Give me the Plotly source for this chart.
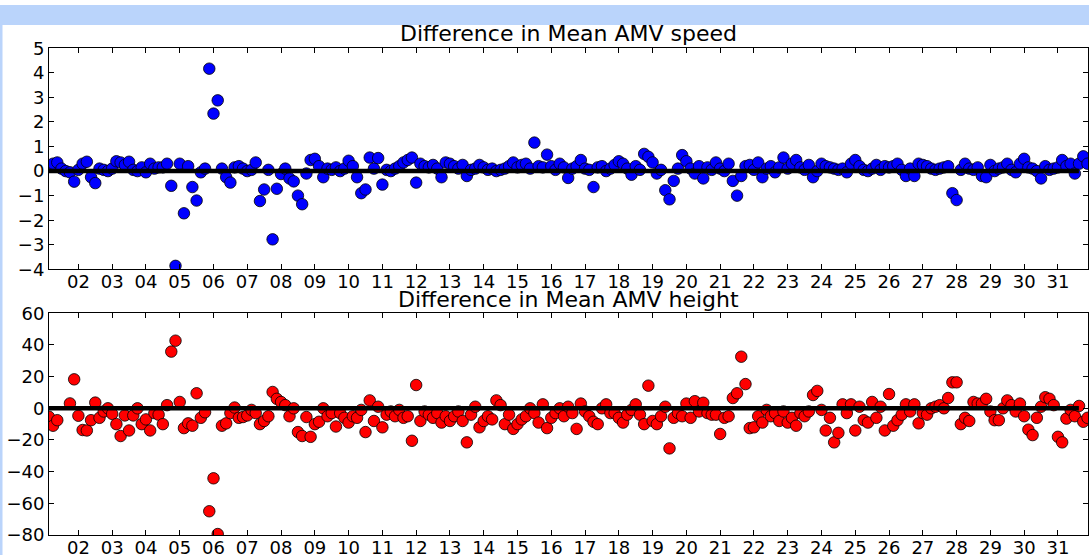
import numpy as np
import plotly.graph_objects as go

# ---------------- data ----------------
# 3-hourly times, expressed as day of month (01 03Z ... 31 21Z)
times = 1.125 + 0.125 * np.arange(247)

day_ticks = list(range(2, 32))
day_labels = ["%02d" % d for d in day_ticks]

speed_diff = [
    0.2, 0.3, 0.35, 0.1, 0.0, -0.05, -0.43,                 # 01
    0.05, 0.3, 0.38, -0.25, -0.49, 0.1, 0.05, 0.0,          # 02
    0.1, 0.4, 0.35, 0.25, 0.38, 0.05, 0.0, 0.15,            # 03
    -0.05, 0.3, 0.1, 0.15, 0.15, 0.3, -0.6, -3.86,          # 04
    0.3, -1.72, 0.2, -0.65, -1.2, -0.05, 0.1, 4.17,         # 05
    2.34, 2.88, 0.1, -0.25, -0.47, 0.15, 0.2, 0.1,          # 06
    0.0, 0.05, 0.35, -1.22, -0.75, 0.05, -2.78, -0.72,      # 07
    -0.12, 0.1, -0.3, -0.42, -1.0, -1.35, -0.1, 0.45,       # 08
    0.5, 0.2, -0.25, 0.1, 0.05, 0.15, 0.0, 0.1,             # 09
    0.42, 0.2, -0.25, -0.9, -0.75, 0.55, 0.1, 0.53,         # 10
    -0.55, 0.05, 0.0, 0.1, 0.2, 0.35, 0.45, 0.55,           # 11
    -0.47, 0.3, 0.2, 0.15, 0.25, 0.1, -0.25, 0.35,          # 12
    0.3, 0.2, 0.1, 0.25, -0.2, 0.05, 0.1, 0.25,             # 13
    0.15, 0.05, 0.1, 0.0, 0.05, 0.1, 0.2, 0.35,             # 14
    0.15, 0.25, 0.3, 0.1, 1.16, 0.2, 0.15, 0.67,            # 15
    0.2, 0.05, 0.3, 0.15, -0.28, 0.1, 0.2, 0.45,            # 16
    0.1, 0.05, -0.65, 0.15, 0.2, 0.0, 0.1, 0.25,            # 17
    0.4, 0.3, 0.1, -0.15, 0.2, 0.05, 0.7, 0.58,             # 18
    0.35, -0.1, 0.05, -0.78, -1.15, -0.4, 0.1, 0.65,        # 19
    0.4, 0.1, -0.1, 0.2, -0.3, 0.15, 0.05, 0.35,            # 20
    0.1, 0.0, 0.3, -0.4, -1.0, -0.2, 0.2, 0.25,             # 21
    0.05, 0.35, -0.25, 0.1, 0.2, -0.05, 0.15, 0.55,         # 22
    0.1, 0.3, 0.45, 0.15, 0.05, 0.25, -0.25, 0.0,           # 23
    0.3, 0.2, 0.15, 0.1, 0.05, 0.1, -0.05, 0.3,             # 24
    0.45, 0.2, 0.05, 0.0, 0.1, 0.25, 0.05, 0.2,             # 25
    0.15, 0.2, 0.3, 0.05, -0.2, 0.1, -0.2, 0.3,             # 26
    0.25, 0.2, 0.1, 0.05, 0.1, 0.15, 0.2, -0.9,             # 27
    -1.18, 0.05, 0.3, 0.1, 0.05, 0.15, -0.2, -0.25,         # 28
    0.25, 0.0, 0.1, 0.15, 0.3, 0.05, -0.05, 0.3,            # 29
    0.5, 0.15, 0.1, 0.0, -0.3, 0.2, 0.05, 0.1,              # 30
    0.15, 0.45, 0.2, 0.3, -0.1, 0.3, 0.6, 0.3,              # 31
]

height_diff = [
    -5.3, -11, -7.5, None, None, 3.1, 18.3,                 # 01
    -4.7, -13.7, -14, -7.5, 3.6, -6, -2, 0,                 # 02
    -3.5, -10, -17.5, -4.5, -14, -4.5, 0, -10,              # 03
    -7, -14, -3, -4, -10, 2, 35.8, 42.7,                    # 04
    4, -12.5, -9.5, -11, 9.5, -6, -2.5, -65,                # 05
    -44.2, -79.4, -11, -9.5, -3, 0.5, -6, -5.5,             # 06
    -4.5, -1, -3, -10, -8, -5, 10.3, 6,                     # 07
    4, 2, -5, 0, -15, -17.5, -5.5, -18,                     # 08
    -10, -8.5, 0, -5, -3, -11.5, -3, -6,                    # 09
    -9, -5, -6, -1, -15, 5, -8, 1,                          # 10
    -12, -4, -2, -5, -1, -6, -5, -20.5,                     # 11
    14.7, -8, -2, -4, -6, -3, -9, -5,                       # 12
    -8, -5, -2, -8, -21.5, -4, 1, -12,                      # 13
    -8, -5, -7, 5, 2, -10, -4, -13,                         # 14
    -10, -7, -5, 0, -3, -9, 2.5, -12.5,                     # 15
    -6, -3, 0, -5, 1, -3, -13, 3,                           # 16
    -2, -5, -8.5, -10, 0, 2.5, -3, -3,                      # 17
    -6, -9, -4, -1, 2.5, -4, -10, 14.3,                     # 18
    -8, -10, -5, 1, -25.3, -6, -3, -5,                      # 19
    3, -6, 4.5, -2, 3.5, -3, -4, -4,                        # 20
    -16.2, -6, -5, 6.5, 9.5, 32.6, 15.3, -12.5,             # 21
    -12, -5, -9, -1, -5, -3, -8, -2,                        # 22
    -9, -6, -11, -3, -5, -2, 8.4, 11,                       # 23
    -1, -14, -6, -21.5, -15.5, 2.5, -3, 2.5,                # 24
    -14, 1, -7.5, -9, 4, -6, 1, -14,                        # 25
    9, -11, -7.5, -4, 2.5, -2, 2.5, -9.5,                   # 26
    -3, -4, 0, 1, 2, 0, 6.5, 16.4,                          # 27
    16.4, -10, -6, -8, 4, 3, 3, 6,                          # 28
    -2, -7.5, -7.5, 0, 5, 2, -2, 3,                         # 29
    -5, -13.5, -16.9, -6, 1, 7, 6, 2,                       # 30
    -18, -21.5, -6.5, -1, -5, 1.5, -8.5, -6,                # 31
]

zero_line_x = [0.87, 31.62]
zero_line_y = [0, 0]

titles = ["Difference in Mean AMV speed", "Difference in Mean AMV height"]

# ---------------- figure ----------------
W, H = 1089, 555
FONT = "DejaVu Sans"
BAND = "#bad4fb"

fig = go.Figure()

marker_common = dict(size=11.5, line=dict(color="black", width=0.8))

fig.add_trace(go.Scatter(x=times, y=speed_diff, mode="markers",
                         marker=dict(color="#0000ff", **marker_common),
                         xaxis="x", yaxis="y", showlegend=False))
fig.add_trace(go.Scatter(x=zero_line_x, y=zero_line_y, mode="lines",
                         line=dict(color="black", width=4.5),
                         xaxis="x", yaxis="y", showlegend=False))
fig.add_trace(go.Scatter(x=times, y=height_diff, mode="markers",
                         marker=dict(color="#ff0000", **marker_common),
                         xaxis="x2", yaxis="y2", showlegend=False))
fig.add_trace(go.Scatter(x=zero_line_x, y=zero_line_y, mode="lines",
                         line=dict(color="black", width=4.5),
                         xaxis="x2", yaxis="y2", showlegend=False))

x_dom = [49 / W, 1088 / W]
top_dom = [1 - 269.3 / H, 1 - 48.3 / H]
bot_dom = [1 - 535 / H, 1 - 313.3 / H]

axis_common = dict(showline=True, linecolor="black", linewidth=1, mirror="ticks",
                   ticks="inside", ticklen=5, tickcolor="black", tickwidth=1,
                   showgrid=False, zeroline=False, automargin=False,
                   tickfont=dict(family=FONT, size=18, color="black"))

xcommon = dict(range=[1.13, 31.89], tickmode="array", tickvals=day_ticks,
               ticktext=day_labels, domain=x_dom, ticklabelstandoff=-4,
               **axis_common)

fig.update_layout(
    template="none",
    width=W, height=H, autosize=False,
    margin=dict(l=0, r=0, t=0, b=0, pad=0, autoexpand=False),
    paper_bgcolor="white", plot_bgcolor="white",
    xaxis=dict(anchor="y", **xcommon),
    xaxis2=dict(anchor="y2", **xcommon),
    yaxis=dict(anchor="x", domain=top_dom, range=[-4, 5], dtick=1, **axis_common),
    yaxis2=dict(anchor="x2", domain=bot_dom, range=[-80, 60], dtick=20, **axis_common),
    shapes=[
        dict(type="rect", xref="paper", yref="paper", x0=0, x1=1,
             y0=1 - 25 / H, y1=1 - 5 / H, fillcolor=BAND, line=dict(width=0),
             layer="below"),
        dict(type="rect", xref="paper", yref="paper", x0=0, x1=2.5 / W,
             y0=0, y1=1 - 25 / H, fillcolor=BAND, line=dict(width=0),
             layer="below"),
    ],
    annotations=[
        dict(text=titles[0], xref="paper", yref="paper",
             x=(x_dom[0] + x_dom[1]) / 2, y=top_dom[1], yanchor="bottom",
             xanchor="center", showarrow=False, yshift=0,
             font=dict(family=FONT, size=22, color="black")),
        dict(text=titles[1], xref="paper", yref="paper",
             x=(x_dom[0] + x_dom[1]) / 2, y=bot_dom[1], yanchor="bottom",
             xanchor="center", showarrow=False, yshift=-1,
             font=dict(family=FONT, size=22, color="black")),
    ],
)

fig.write_html("out.html")
